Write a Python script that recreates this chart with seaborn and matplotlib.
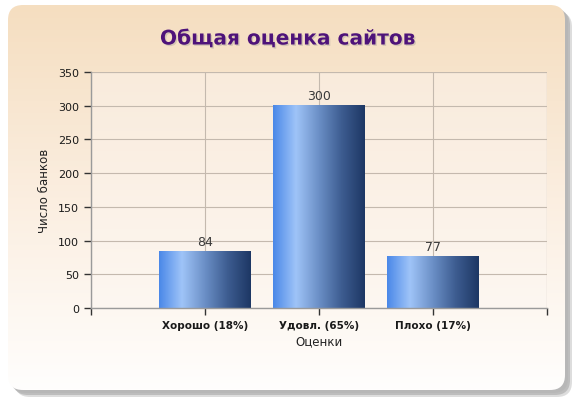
import numpy as np
import pandas as pd
import matplotlib
matplotlib.use("Agg")
import matplotlib.pyplot as plt
import seaborn as sns
from matplotlib.patches import FancyBboxPatch
from matplotlib.colors import LinearSegmentedColormap
import matplotlib.patheffects as pe

categories = ["Хорошо (18%)", "Удовл. (65%)", "Плохо (17%)"]
values = [84, 300, 77]
y_ticks = [0, 50, 100, 150, 200, 250, 300, 350]
title = "Общая оценка сайтов"
x_label = "Оценки"
y_label = "Число банков"

sns.set_theme(style="white")
plt.rcParams['font.family'] = ['DejaVu Sans']

W, H = 581, 406
fig = plt.figure(figsize=(W / 100, H / 100), dpi=100)
fig.patch.set_facecolor("white")

# background panel axes
bg = fig.add_axes([0, 0, 1, 1])
bg.set_xlim(0, W)
bg.set_ylim(H, 0)
bg.axis("off")

px0, py0, px1, py1 = 8, 6, 565, 391
r = 15
for off, col, a in [(7, "#bdbdbd", 0.5), (5, "#a8a8a8", 0.6), (3, "#b5b5b5", 0.7)]:
    bg.add_patch(FancyBboxPatch((px0 + off, py0 + off), px1 - px0, py1 - py0,
                                boxstyle=f"round,pad=0,rounding_size={r}",
                                facecolor=col, edgecolor="none", alpha=a, zorder=1))
panel = FancyBboxPatch((px0, py0), px1 - px0, py1 - py0,
                       boxstyle=f"round,pad=0,rounding_size={r}",
                       facecolor="none", edgecolor="none", zorder=2)
bg.add_patch(panel)
panel_cmap = LinearSegmentedColormap.from_list("panel", ["#f5dec0", "#fbeee0", "#fffefd"])
grad = np.linspace(0, 1, 256).reshape(-1, 1)
im = bg.imshow(grad, cmap=panel_cmap, extent=(px0, px1, py1, py0), aspect="auto", zorder=2)
im.set_clip_path(panel)

bg.text(288, 40, title, ha="center", va="center", fontsize=14.5, fontweight="bold",
        color="#4e137a", zorder=5,
        path_effects=[pe.withSimplePatchShadow(offset=(1, -1), shadow_rgbFace="#888888", alpha=0.3)])

# main axes
ax = fig.add_axes([91 / W, 1 - 309 / H, (547 - 91) / W, (309 - 73) / H])
df = pd.DataFrame({"cat": categories, "val": values})
sns.barplot(data=df, x="cat", y="val", ax=ax, width=0.8, color="#4a88e8", zorder=3)

ax.set_xlim(-1, 3)
ax.set_ylim(0, 350)
ax.set_facecolor("none")
area_cmap = LinearSegmentedColormap.from_list("area", ["#f9ebdc", "#fdf7f1"])
ax.imshow(grad, cmap=area_cmap, extent=(-1, 3, 0, 350), aspect="auto", zorder=0)

bar_cmap = LinearSegmentedColormap.from_list(
    "bar", [(0.0, "#4a88e8"), (0.25, "#9fc4f8"), (0.5, "#6b8fc6"), (0.75, "#3d5c90"), (1.0, "#1d3764")])
hgrad = np.linspace(0, 1, 256).reshape(1, -1)
for p, v in zip(ax.patches, values):
    x0, w, h = p.get_x(), p.get_width(), p.get_height()
    p.set_visible(False)
    ax.imshow(hgrad, cmap=bar_cmap, extent=(x0, x0 + w, 0, h), aspect="auto", zorder=3)
    ax.text(x0 + w / 2, h + 5, str(v), ha="center", va="bottom", fontsize=9, color="#3a3a3a", zorder=4)

ax.set_xticks([-1, 0, 1, 2, 3])
ax.set_xticklabels([""] + categories + [""], fontsize=7.5, fontweight="bold", color="#1a1a1a")
ax.set_yticks(y_ticks)
ax.set_yticklabels([str(t) for t in y_ticks], fontsize=8, color="#1a1a1a")
ax.tick_params(axis="both", which="both", direction="out", length=5, width=1, colors="#333333",
               bottom=True, left=True)
for lab in ax.get_xticklabels() + ax.get_yticklabels():
    lab.set_color("#1a1a1a")
ax.grid(True, color="#c4b9ae", linewidth=0.8, zorder=1)
ax.set_axisbelow(True)
for s in ["top", "right"]:
    ax.spines[s].set_visible(False)
for s in ["left", "bottom"]:
    ax.spines[s].set_color("#9a9a9a")
    ax.spines[s].set_linewidth(1)
    ax.spines[s].set_zorder(5)
ax.axvline(3, color="#c4b9ae", linewidth=0.8, zorder=1)
ax.axhline(350, color="#c4b9ae", linewidth=0.8, zorder=1)

ax.set_xlabel(x_label, fontsize=8.5, color="#222222", labelpad=3)
ax.set_ylabel(y_label, fontsize=8.5, color="#222222", labelpad=5)

fig.savefig("out.png", dpi=100, facecolor="white")
